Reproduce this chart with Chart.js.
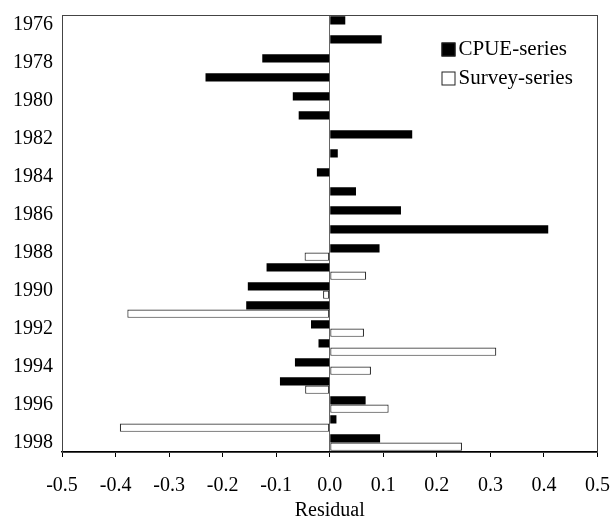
<!DOCTYPE html>
<html>
<head>
<meta charset="utf-8">
<script src="https://cdn.jsdelivr.net/npm/chart.js@4/dist/chart.umd.min.js"></script>
<style>
  html, body { margin: 0; padding: 0; background: #fff; }
  #wrap { width: 612px; height: 521px; }
</style>
</head>
<body>
<div id="wrap"><canvas id="c" width="612" height="521"></canvas></div>
<script>
const years = ["1976","1977","1978","1979","1980","1981","1982","1983","1984","1985","1986","1987",
               "1988","1989","1990","1991","1992","1993","1994","1995","1996","1997","1998"];
const cpueSeries = [0.029, 0.097, -0.126, -0.232, -0.069, -0.058, 0.154, 0.015, -0.024, 0.049, 0.133, 0.408,
                    0.093, -0.118, -0.153, -0.156, -0.035, -0.021, -0.065, -0.093, 0.067, 0.0125, 0.094];
const surveySeries = [null, null, null, null, null, null, null, null, null, null, null, null,
                      -0.047, 0.068, -0.0125, -0.378, 0.064, 0.311, 0.077, -0.046, 0.110, -0.392, 0.247];
const xTickValues = [-0.5, -0.4, -0.3, -0.2, -0.1, 0.0, 0.1, 0.2, 0.3, 0.4, 0.5];
const seriesNames = ["CPUE-series", "Survey-series"];
const axisTitle = "Residual";

const FONT = "'Liberation Serif', 'Times New Roman', serif";

const frameAndLegend = {
  id: 'frameAndLegend',
  afterDatasetsDraw(chart) {
    const ctx = chart.ctx;
    const a = chart.chartArea;
    ctx.save();
    ctx.strokeStyle = '#444';
    ctx.lineWidth = 1;
    ctx.strokeRect(Math.round(a.left) + 0.5, Math.round(a.top) + 0.5,
                   Math.round(a.right - a.left) - 1, Math.round(a.bottom - a.top));
    // legend
    const x0 = a.right - 156;
    const ys = [a.top + 34, a.top + 63];
    ctx.font = "21px " + FONT;
    ctx.textBaseline = 'middle';
    ctx.textAlign = 'left';
    chart.data.datasets.forEach((ds, i) => {
      const y = ys[i];
      ctx.fillStyle = ds.backgroundColor;
      ctx.fillRect(x0, y - 6.5, 14, 14);
      ctx.strokeStyle = '#222';
      ctx.lineWidth = 1;
      ctx.strokeRect(x0 + 0.5, y - 6, 13, 13);
      ctx.fillStyle = '#000';
      ctx.fillText(ds.label, x0 + 17, y);
    });
    ctx.restore();
  }
};

new Chart(document.getElementById('c'), {
  type: 'bar',
  data: {
    labels: years,
    datasets: [
      { label: seriesNames[0], data: cpueSeries, backgroundColor: '#000000', borderColor: '#000000', borderWidth: 0 },
      { label: seriesNames[1], data: surveySeries, backgroundColor: '#ffffff', borderColor: '#333333', borderWidth: 1.2, borderSkipped: false }
    ]
  },
  options: {
    indexAxis: 'y',
    responsive: false,
    animation: false,
    devicePixelRatio: 1,
    layout: { padding: { left: 0, right: 0, top: 15, bottom: 0 } },
    categoryPercentage: 0.88,
    barPercentage: 1.0,
    plugins: {
      legend: { display: false },
      tooltip: { enabled: false }
    },
    scales: {
      x: {
        min: -0.5, max: 0.5,
        afterBuildTicks(scale) { scale.ticks = xTickValues.map(v => ({ value: v })); },
        ticks: {
          callback: v => (Math.round(v * 10) / 10).toFixed(1),
          font: { family: FONT, size: 20 },
          color: '#000',
          padding: 17,
          maxRotation: 0
        },
        grid: {
          color: c => (c.tick && Math.abs(c.tick.value) < 1e-9) ? '#666' : 'rgba(0,0,0,0)',
          tickColor: '#000',
          tickLength: 5,
          lineWidth: 1
        },
        border: { color: '#000', width: 1.5 },
        title: { display: true, text: axisTitle, font: { family: FONT, size: 20 }, color: '#000', padding: { top: 0, bottom: -2 } },
        afterFit(scale) { scale.height = 69; scale.paddingLeft = 0; scale.paddingRight = 14.5; }
      },
      y: {
        ticks: {
          autoSkip: false,
          callback: function(v, i) { const l = this.getLabelForValue(v); return (parseInt(l) % 2 === 0) ? l : ''; },
          font: { family: FONT, size: 20 },
          color: '#000',
          padding: 9
        },
        grid: { display: false, drawTicks: false },
        border: { color: '#444', width: 1 },
        afterFit(scale) { scale.width = 62; scale.paddingTop = 0; scale.paddingBottom = 0; }
      }
    }
  },
  plugins: [frameAndLegend]
});
</script>
</body>
</html>
